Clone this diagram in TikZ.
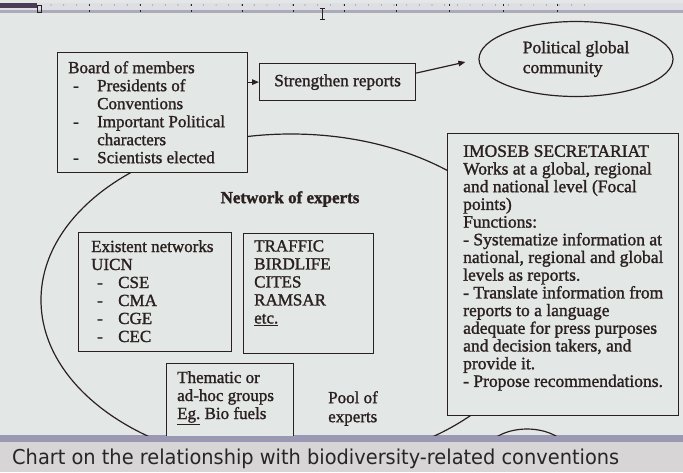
\documentclass[tikz,border=0pt]{standalone}
\usepackage{fontspec}
\setmainfont{Liberation Serif}[FakeBold=1.4]
\newfontfamily\capfont[FakeStretch=0.945]{DejaVu Sans}
\usetikzlibrary{arrows.meta,shapes.geometric}
\definecolor{slidebg}{HTML}{E3E8E6}
\definecolor{ink}{HTML}{2B2020}
\definecolor{capbg}{HTML}{D7D5D5}
\definecolor{rulerbg}{HTML}{DEDFE5}
\definecolor{rulerline}{HTML}{ABABBB}
\definecolor{edgeband}{HTML}{9A98B2}
\definecolor{purplebar}{HTML}{4B3B58}
\newcommand{\dashitem}[2]{\makebox[#1][l]{\hspace*{#2}-}}
\begin{document}
\begin{tikzpicture}[x=1pt,y=-1pt,
  box/.style={draw=ink, line width=1.2pt, fill=slidebg, inner sep=0pt, anchor=north west},
  txt/.style={text=ink, font=\fontsize{17}{18}\selectfont, align=left, inner sep=0pt, anchor=north west},
  link/.style={draw=ink, line width=1.2pt, -{Triangle[length=7pt,width=5.5pt]}},
  outline/.style={draw=ink, line width=1.2pt}]
% background
\useasboundingbox (0,0) rectangle (683,472);
\fill[slidebg] (0,0) rectangle (683,472);
\fill[capbg] (0,442) rectangle (683,472);
\fill[edgeband] (0,435) rectangle (683,442);
% ruler
\fill[rulerbg] (0,3) rectangle (683,13);
\fill[rulerline] (0,9.5) rectangle (683,12.5);
\fill[purplebar] (0,3) rectangle (37,8);
\draw[ink, line width=0.8pt] (37.5,5) rectangle (41,12);
\foreach \x in {89,140,191,242,293,344,396,449,503,557}
  \draw[ink, line width=0.9pt] (\x,4) -- (\x,6) (\x,10) -- (\x,12);
\foreach \i in {0,...,42}
  \fill[gray] (51+\i*12.7,5) circle (0.6);
% cursor
\draw[ink, line width=1pt] (322,8) -- (322,19);
\draw[ink, line width=0.8pt] (319.5,8) -- (324.5,8) (319.5,19) -- (324.5,19);
% slide content clipped
\begin{scope}
\clip (0,14) rectangle (683,435);
\draw[outline] (291,300) ellipse [x radius=250, y radius=166];
\draw[outline] (527,459) ellipse [x radius=45, y radius=30];
\node[box, minimum width=127pt, minimum height=90pt] (thematic) at (166,363) {};
\end{scope}
% boxes
\node[box, minimum width=190pt, minimum height=120pt] (board) at (57,52) {};
\node[box, minimum width=156pt, minimum height=37pt, text=ink, font=\fontsize{17.2}{18}\selectfont] (strengthen) at (259,63) {Strengthen reports};
\node[ellipse, draw=ink, line width=1.2pt, minimum width=194pt, minimum height=75pt, inner sep=0pt, align=left, text=ink, font=\fontsize{17.5}{20}\selectfont] (political) at (576,59) {Political global\\community};
\node[box, minimum width=231pt, minimum height=282pt] (imoseb) at (447,133) {};
\node[box, minimum width=153pt, minimum height=119pt] (existent) at (78,232) {};
\node[box, minimum width=130pt, minimum height=120pt] (traffic) at (243,233) {};
% texts
\node[txt] (boardtext) at (68,61) {Board of members\\
\dashitem{29pt}{5pt}Presidents of\\
\hspace*{29pt}Conventions\\
\dashitem{29pt}{5pt}Important Political\\
\hspace*{29pt}characters\\
\dashitem{29pt}{5pt}Scientists elected};
\node[txt, font=\fontsize{17.5}{17.7}\selectfont] (imosebtext) at (463,145) {IMOSEB SECRETARIAT\\
Works at a global, regional\\
and national level (Focal\\
points)\\
Functions:\\
- Systematize information at\\
national, regional and global\\
levels as reports.\\
- Translate information from\\
reports to a language\\
adequate for press purposes\\
and decision takers, and\\
provide it.\\
- Propose recommendations.};
\node[text=ink, inner sep=0pt, font=\fontsize{17}{18}\selectfont\bfseries] (network) at (290,199) {Network of experts};
\node[txt] (existenttext) at (91,240) {Existent networks\\
UICN\\
\dashitem{27pt}{6pt}CSE\\
\dashitem{27pt}{6pt}CMA\\
\dashitem{27pt}{6pt}CGE\\
\dashitem{27pt}{6pt}CEC};
\node[txt] (traffictext) at (254,240) {TRAFFIC\\BIRDLIFE\\CITES\\RAMSAR\\\underline{etc.}};
\node[txt] (thematictext) at (177,371) {Thematic or\\ad-hoc groups\\\underline{Eg.} Bio fuels};
\node[txt, font=\fontsize{17}{19}\selectfont] (pooltext) at (328,391) {Pool of\\experts};
% connectors
\draw[link] (board.east |- strengthen.west) -- (strengthen.west);
\draw[link] ([yshift=9pt]strengthen.east) -- ([xshift=-13pt,yshift=-3pt]political.west);
% caption
\node[anchor=base west, inner sep=0pt, text=black!85, font=\capfont\fontsize{20.5}{24}\selectfont] (caption) at (12,464) {Chart on the relationship with biodiversity-related conventions};
\end{tikzpicture}
\end{document}
